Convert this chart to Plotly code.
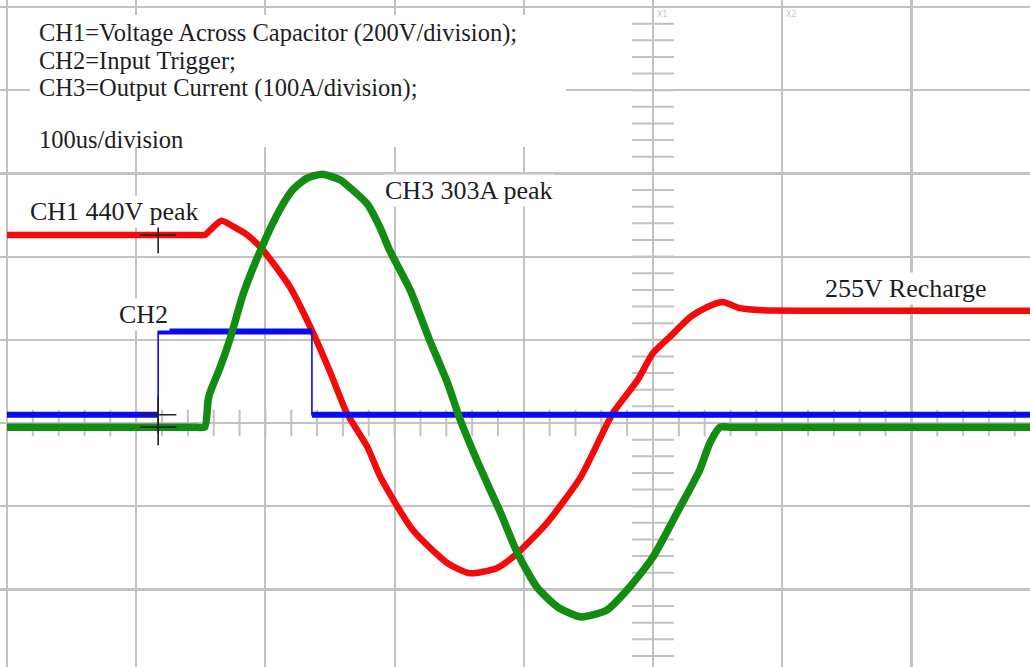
import plotly.graph_objects as go

# ---------------- data ----------------
# time in microseconds from the left edge of the graticule
ch1_t = [0, 60, 120, 146, 153, 159, 166, 177, 186, 198, 219, 237, 250, 263, 279, 289, 314, 341,
         358, 379, 395, 418, 444, 469, 488, 500, 513, 529, 542, 554, 567, 585, 620, 680, 740, 792]
ch1_v = [440, 440, 440, 440, 440, 457, 474, 457, 440, 404, 315, 204, 111, 12, -70, -142, -269, -349,
         -373, -361, -325, -252, -142, 12, 91, 156, 195, 243, 267, 279, 264, 259, 258, 258, 258, 258]

ch2_t = [0, 117, 117, 236, 236, 792]
ch2_v = [0, 0, 5, 5, 0, 0]

ch3_t = [0, 60, 120, 146, 153, 155.6, 157, 165, 173, 183, 198, 211, 221, 232, 244, 258, 266, 279, 289,
         296, 312, 327, 341, 351, 366, 382, 395, 410, 426, 444, 464, 482, 500, 521, 536,
         544, 552, 560, 600, 660, 720, 792]
ch3_a = [0, 0, 0, 0, 0, 32, 41, 72, 108, 161, 219, 261, 285, 299, 304, 297, 287, 268, 239,
         213, 165, 105, 53, 8, -48, -103, -151, -192, -216, -228, -220, -192, -156, -96, -52,
         -19, 0, 0, 0, 0, 0, 0]

cursor_t = [117, 117, 117]
cursor_ch = ["CH1", "CH2", "CH3"]
cursor_val = [440, 0, 0]

# channel settings: units per division and vertical position (div)
ch_scale = {"CH1": 200, "CH2": 5, "CH3": 100}
ch_pos = {"CH1": 0.06, "CH2": 0.10, "CH3": -0.05}

# ---------------- layout geometry ----------------
W, H = 1030, 667
X0_PX, DIVX_PX = 7, 129.2
Y0_PX, DIVY_PX = 423, 83.2
US_DIV = 100

t_lo = -X0_PX / DIVX_PX * US_DIV
t_hi = (W - X0_PX) / DIVX_PX * US_DIV
y_hi = Y0_PX / DIVY_PX
y_lo = -(H - Y0_PX) / DIVY_PX


def to_div(ch, vals):
    return [None if v is None else v / ch_scale[ch] + ch_pos[ch] for v in vals]


def px_t(x):
    return (x - X0_PX) / DIVX_PX * US_DIV


def px_y(y):
    return (Y0_PX - y) / DIVY_PX


fig = go.Figure()

grid_col = "#c2c2c2"

# centre-line minor ticks of the graticule
tick_t = [i * US_DIV / 5 for i in range(0, 40)]
fig.add_trace(go.Scatter(x=tick_t, y=[0] * len(tick_t), mode="markers",
                         marker=dict(symbol="line-ns", size=19,
                                     line=dict(color=grid_col, width=2)),
                         hoverinfo="skip", showlegend=False))
tick_y = [k * 0.2 for k in range(-14, 26)]
fig.add_trace(go.Scatter(x=[500] * len(tick_y), y=tick_y, mode="markers",
                         marker=dict(symbol="line-ew", size=30,
                                     line=dict(color=grid_col, width=2)),
                         hoverinfo="skip", showlegend=False))

# CH1 (red)
fig.add_trace(go.Scatter(x=ch1_t, y=to_div("CH1", ch1_v), mode="lines",
                         line=dict(color="#f50a0a", width=6.5, shape="spline", smoothing=0.6),
                         hoverinfo="skip", showlegend=False))

# CH2 (blue): thin edges, thick flat levels
fig.add_trace(go.Scatter(x=ch2_t, y=to_div("CH2", ch2_v), mode="lines",
                         line=dict(color="#0a0af0", width=1.6),
                         hoverinfo="skip", showlegend=False))
thick_t, thick_v = [], []
for i in range(len(ch2_t) - 1):
    if ch2_t[i] != ch2_t[i + 1]:
        thick_t += [ch2_t[i], ch2_t[i + 1], None]
        thick_v += [ch2_v[i], ch2_v[i + 1], None]
fig.add_trace(go.Scatter(x=thick_t, y=to_div("CH2", thick_v), mode="lines",
                         line=dict(color="#0a0af0", width=6),
                         connectgaps=False, hoverinfo="skip", showlegend=False))

# CH3 (green)
fig.add_trace(go.Scatter(x=ch3_t, y=to_div("CH3", ch3_a), mode="lines",
                         line=dict(color="#128c12", width=7.5, shape="spline", smoothing=0.6),
                         hoverinfo="skip", showlegend=False))

# cursor crosses
fig.add_trace(go.Scatter(x=cursor_t,
                         y=[cursor_val[i] / ch_scale[c] + ch_pos[c] for i, c in enumerate(cursor_ch)],
                         mode="markers",
                         marker=dict(symbol="cross-thin", size=26,
                                     line=dict(color="#222222", width=1.6)),
                         hoverinfo="skip", showlegend=False))

# white box behind the header text
fig.add_shape(type="rect", x0=px_t(30), x1=px_t(566), y0=px_y(147), y1=px_y(15),
              fillcolor="white", line=dict(width=0), layer="between")

serif = "Liberation Serif, Times New Roman, serif"
txt_col = "#1e1e1e"

header = [("CH1=Voltage Across Capacitor (200V/division);", 32.5),
          ("CH2=Input Trigger;", 60),
          ("CH3=Output Current (100A/division);", 87.5),
          ("100us/division", 139)]
for text, ypx in header:
    fig.add_annotation(x=px_t(38), y=px_y(ypx), text=text, showarrow=False,
                       xanchor="left", yanchor="middle", borderpad=0,
                       font=dict(family=serif, size=24.5, color=txt_col))

labels = [("CH1 440V peak", 28, 211),
          ("CH2", 117, 314),
          ("CH3 303A peak", 383, 190),
          ("255V Recharge", 823, 288)]
for text, xpx, ypx in labels:
    fig.add_annotation(x=px_t(xpx), y=px_y(ypx), text=text, showarrow=False,
                       xanchor="left", yanchor="middle", bgcolor="white", borderpad=1,
                       font=dict(family=serif, size=26, color=txt_col))

for text, xpx in [("X1", 655), ("X2", 784)]:
    fig.add_annotation(x=px_t(xpx), y=px_y(14), text=text, showarrow=False,
                       xanchor="left", yanchor="middle",
                       font=dict(family="DejaVu Sans", size=8, color="#c8c8c8"))

axis_common = dict(showgrid=True, gridcolor=grid_col, gridwidth=2.2,
                   zeroline=False, showticklabels=False, ticks="",
                   showline=False, fixedrange=True)
fig.update_xaxes(range=[t_lo, t_hi], tick0=0, dtick=US_DIV, **axis_common)
fig.update_yaxes(range=[y_lo, y_hi], tick0=0, dtick=1, **axis_common)

fig.update_layout(width=W, height=H, margin=dict(l=0, r=0, t=0, b=0),
                  plot_bgcolor="white", paper_bgcolor="white")

fig.write_html("out.html", config={"displayModeBar": False, "staticPlot": True},
               post_script="document.body.style.margin='0';document.body.style.overflow='hidden';")
